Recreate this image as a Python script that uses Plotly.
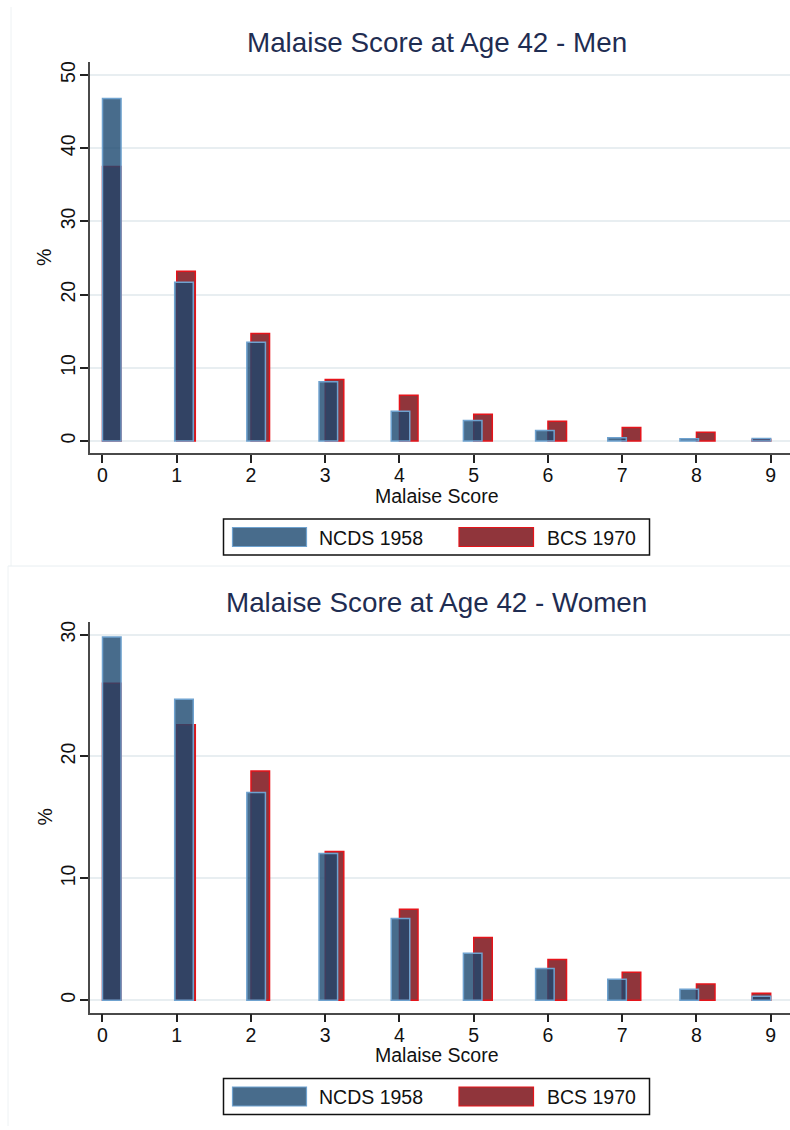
import numpy as np
import plotly.graph_objects as go

# ---------------- data ----------------
scores = [0, 1, 2, 3, 4, 5, 6, 7, 8, 9]
men_ncds = [46.8, 21.7, 13.5, 8.1, 4.05, 2.8, 1.45, 0.45, 0.32, 0.35]
men_bcs = [37.5, 23.2, 14.7, 8.4, 6.25, 3.65, 2.7, 1.85, 1.2, 0.2]
women_ncds = [29.8, 24.7, 17.05, 12.05, 6.7, 3.85, 2.6, 1.72, 0.9, 0.33]
women_bcs = [26.0, 22.6, 18.8, 12.2, 7.46, 5.16, 3.35, 2.3, 1.34, 0.57]
series_names = ["NCDS 1958", "BCS 1970"]
titles = ["Malaise Score at Age 42 - Men", "Malaise Score at Age 42 - Women"]
x_title = "Malaise Score"
y_title = "%"
men_yticks = [0, 10, 20, 30, 40, 50]
women_yticks = [0, 10, 20, 30]

# ---------------- style ----------------
W, H = 790, 1130
FONT = "Liberation Sans, Arial, Helvetica, sans-serif"
NAVY_FILL = "rgba(26,71,111,0.8)"
NAVY_LINE = "#6fa2cf"
MAROON_FILL = "rgb(144,53,59)"
MAROON_LINE = "#e5141b"
TITLE_COL = "#1f2d52"
GRID_COL = "#e8eef1"
AXIS_COL = "#4a4a4a"
BAR_W = 0.25
FS = 19.5

def px(x):
    return x / W

def py(y):
    return 1 - y / H

sc = np.array(scores, dtype=float)
blue_off = -sc / 36.0
red_off = np.where(sc < sc.max(), 0.0, -sc / 36.0)

fig = go.Figure()

panels = [
    dict(ncds=men_ncds, bcs=men_bcs, yticks=men_yticks, top=62, bottom=453,
         yr=[-1.64, 51.78], dy=0, xa="x", ya="y"),
    dict(ncds=women_ncds, bcs=women_bcs, yticks=women_yticks, top=621.5, bottom=1012.5,
         yr=[-1.0, 31.07], dy=559.5, xa="x2", ya="y2"),
]

shapes = []
annotations = []

for i, p in enumerate(panels):
    fig.add_trace(go.Bar(
        x=scores, y=p["bcs"], offset=red_off, width=BAR_W, name=series_names[1],
        marker=dict(color=MAROON_FILL, line=dict(color=MAROON_LINE, width=1.5)),
        xaxis=p["xa"], yaxis=p["ya"], showlegend=False))
    fig.add_trace(go.Bar(
        x=scores, y=p["ncds"], offset=blue_off, width=BAR_W, name=series_names[0],
        marker=dict(color=NAVY_FILL, line=dict(color=NAVY_LINE, width=1.5)),
        xaxis=p["xa"], yaxis=p["ya"], showlegend=False))

    dy = p["dy"]
    annotations.append(dict(text=titles[i], x=px(436.7), y=py(43 + dy), xref="paper", yref="paper",
                            showarrow=False, xanchor="center", yanchor="middle",
                            font=dict(size=27.8, color=TITLE_COL, family=FONT)))
    annotations.append(dict(text=x_title, x=px(437), y=py(495.5 + dy), xref="paper", yref="paper",
                            showarrow=False, xanchor="center", yanchor="middle",
                            font=dict(size=FS, color="#111", family=FONT)))
    annotations.append(dict(text=y_title, x=px(44), y=py(258 + dy), xref="paper", yref="paper",
                            textangle=-90, showarrow=False, xanchor="center", yanchor="middle",
                            font=dict(size=FS, color="#111", family=FONT)))
    shapes.append(dict(type="rect", xref="paper", yref="paper",
                       x0=px(223.5), x1=px(649.5), y0=py(519 + dy), y1=py(555 + dy),
                       line=dict(color="#111", width=1.5), fillcolor="white"))
    shapes.append(dict(type="rect", xref="paper", yref="paper",
                       x0=px(232.5), x1=px(306.5), y0=py(527.5 + dy), y1=py(546.5 + dy),
                       line=dict(color=NAVY_LINE, width=1.2), fillcolor=NAVY_FILL))
    shapes.append(dict(type="rect", xref="paper", yref="paper",
                       x0=px(459), x1=px(533.5), y0=py(527.5 + dy), y1=py(546.5 + dy),
                       line=dict(color=MAROON_LINE, width=1.2), fillcolor=MAROON_FILL))
    annotations.append(dict(text=series_names[0], x=px(317), y=py(537.5 + dy), xref="paper", yref="paper",
                            showarrow=False, xanchor="left", yanchor="middle",
                            font=dict(size=FS, color="#111", family=FONT)))
    annotations.append(dict(text=series_names[1], x=px(545), y=py(537.5 + dy), xref="paper", yref="paper",
                            showarrow=False, xanchor="left", yanchor="middle",
                            font=dict(size=FS, color="#111", family=FONT)))

# faint panel borders
shapes.append(dict(type="line", xref="paper", yref="paper", x0=px(11), x1=px(11), y0=py(7), y1=py(566),
                   line=dict(color="#eef2f4", width=1)))
shapes.append(dict(type="line", xref="paper", yref="paper", x0=px(8), x1=1, y0=py(566), y1=py(566),
                   line=dict(color="#e8eef1", width=1)))
shapes.append(dict(type="line", xref="paper", yref="paper", x0=px(8), x1=px(8), y0=py(566), y1=py(1126),
                   line=dict(color="#eef2f4", width=1)))

xaxis_common = dict(range=[-0.175, 9.26], tickmode="array", tickvals=scores,
                    ticktext=[str(s) for s in scores], showgrid=False, zeroline=False,
                    showline=True, linecolor=AXIS_COL, linewidth=1.5, automargin=False,
                    ticks="outside", ticklen=8, tickwidth=1.5, tickcolor="#222",
                    ticklabelstandoff=-4,
                    tickfont=dict(size=FS, color="#111", family=FONT))
yaxis_common = dict(showgrid=True, gridcolor=GRID_COL, gridwidth=1.5, zeroline=False,
                    showline=True, linecolor=AXIS_COL, linewidth=1.5, automargin=False,
                    ticks="outside", ticklen=8, tickwidth=1.5, tickcolor="#222",
                    tickangle=-90, ticklabelstandoff=-3,
                    tickfont=dict(size=FS, color="#111", family=FONT))

layout_axes = {}
for i, p in enumerate(panels):
    suf = "" if i == 0 else "2"
    dom_y = [py(p["bottom"]), py(p["top"])]
    layout_axes["xaxis" + suf] = dict(xaxis_common, domain=[px(89.5), 1.0],
                                      anchor="y" + suf)
    layout_axes["yaxis" + suf] = dict(yaxis_common, domain=dom_y, range=p["yr"],
                                      tickmode="array", tickvals=p["yticks"],
                                      ticktext=[str(t) for t in p["yticks"]],
                                      anchor="x" + suf)

fig.update_layout(
    width=W, height=H, margin=dict(l=0, r=0, t=0, b=0, autoexpand=False),
    paper_bgcolor="white", plot_bgcolor="white",
    barmode="overlay", showlegend=False, hovermode=False,
    font=dict(family=FONT, color="#111"),
    shapes=shapes, annotations=annotations,
    **layout_axes,
)

fig.write_html("out.html", config={"displayModeBar": False},
               post_script="document.body.style.margin='0px';document.body.style.overflow='hidden';")
